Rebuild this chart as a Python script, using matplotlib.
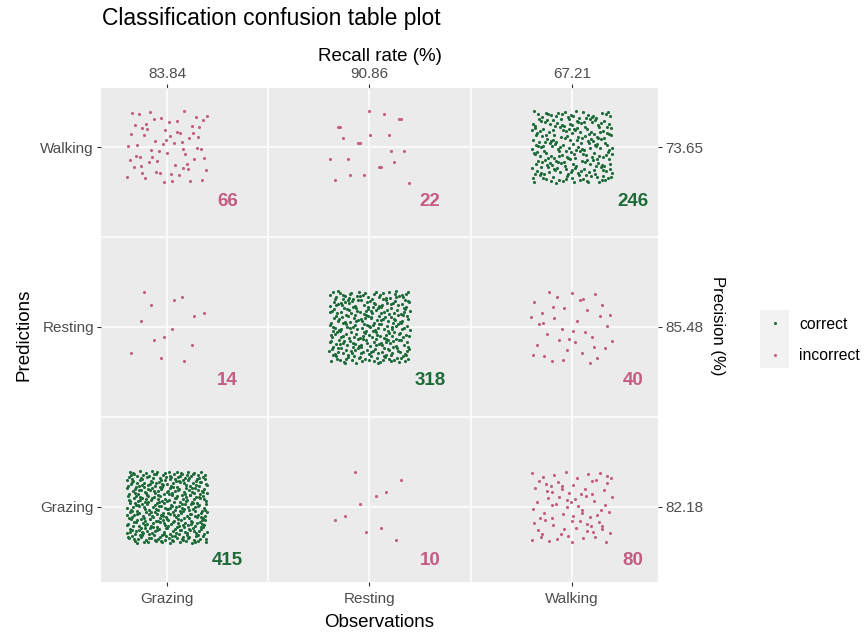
import matplotlib
matplotlib.use("Agg")
import matplotlib.pyplot as plt
from matplotlib.lines import Line2D
from matplotlib.patches import Rectangle
import numpy as np

plt.rcParams["font.family"] = ["Liberation Sans", "DejaVu Sans"]

classes = ["Grazing", "Resting", "Walking"]
# rows: predictions (Grazing, Resting, Walking); columns: observations
counts = [
    [415, 10, 80],
    [14, 318, 40],
    [66, 22, 246],
]
recall_labels = ["83.84", "90.86", "67.21"]
precision_labels = ["82.18", "85.48", "73.65"]

GREEN = "#1c6b38"
PINK = "#c45c84"
TICK_GREY = "#4d4d4d"


def halton(n, base, start=1):
    """Deterministic low-discrepancy spread used as jitter."""
    out = []
    for k in range(start, start + n):
        f, r, i = 1.0, 0.0, k
        while i > 0:
            f /= base
            r += f * (i % base)
            i //= base
        out.append(r)
    return np.array(out)


fig = plt.figure(figsize=(8.65, 6.36), dpi=100)
ax = fig.add_axes([101 / 865, 1 - 582 / 636, 557 / 865, 494 / 636])
ax.set_facecolor("#ebebeb")

start = 1
for i, row in enumerate(counts):
    for j, n in enumerate(row):
        color = GREEN if i == j else PINK
        jx = halton(n, 2, start) - 0.5
        jy = halton(n, 3, start) - 0.5
        start += n + 37
        ax.scatter(j + 1 + jx * 0.4, i + 1 + jy * 0.4, s=5, color=color,
                   linewidths=0, zorder=3)
        ax.text(j + 1.3, i + 0.7, str(n), color=color, fontsize=13.5,
                fontweight="bold", ha="center", va="center", zorder=4)

ax.set_xlim(0.674, 3.425)
ax.set_ylim(0.583, 3.328)
ax.set_xticks([1, 2, 3], classes)
ax.set_yticks([1, 2, 3], classes)
ax.set_xticks([1.5, 2.5], minor=True)
ax.set_yticks([1.5, 2.5], minor=True)
ax.grid(which="major", color="white", linewidth=1.1)
ax.grid(which="minor", color="white", linewidth=1.1)
ax.set_axisbelow(True)
for s in ax.spines.values():
    s.set_visible(False)
ax.tick_params(which="minor", length=0)
ax.tick_params(which="major", length=3, width=0.8, color="#333333",
               labelcolor=TICK_GREY, labelsize=11, pad=2)
ax.tick_params(axis="x", which="major", pad=4)
ax.set_xlabel("Observations", fontsize=13.5, labelpad=6)
ax.set_ylabel("Predictions", fontsize=13.5, labelpad=6)

top = ax.secondary_xaxis("top")
top.set_xticks([1, 2, 3], recall_labels)
top.tick_params(length=3, width=0.8, color="#333333", labelcolor=TICK_GREY,
                labelsize=11, pad=2)
top.set_xlabel("Recall rate (%)", fontsize=13.5, labelpad=4)
for s in top.spines.values():
    s.set_visible(False)

right = ax.secondary_yaxis("right")
right.set_yticks([1, 2, 3], precision_labels)
right.tick_params(length=3, width=0.8, color="#333333", labelcolor=TICK_GREY,
                  labelsize=11, pad=2)
for s in right.spines.values():
    s.set_visible(False)
fig.text(717 / 865, 1 - 326 / 636, "Precision (%)", fontsize=12,
         rotation=-90, ha="center", va="center")

fig.text(102 / 865, 1 - 19 / 636, "Classification confusion table plot",
         fontsize=16.5, ha="left", va="center")

fig.add_artist(Rectangle((760 / 865, 1 - 368 / 636), 29 / 865, 58 / 636,
                         transform=fig.transFigure, facecolor="#f2f2f2",
                         edgecolor="none", zorder=0))
handles = [
    Line2D([], [], linestyle="none", marker="o", markersize=2.2,
           markerfacecolor=GREEN, markeredgewidth=0, label="correct"),
    Line2D([], [], linestyle="none", marker="o", markersize=2.2,
           markerfacecolor=PINK, markeredgewidth=0, label="incorrect"),
]
fig.legend(handles=handles, loc="center left",
           bbox_to_anchor=(765.5 / 865, 1 - 340 / 636), frameon=False,
           fontsize=11.3, handlelength=1.2, handletextpad=0.93,
           labelspacing=1.03, borderaxespad=0, borderpad=0)

fig.savefig("out.png", dpi=100)
